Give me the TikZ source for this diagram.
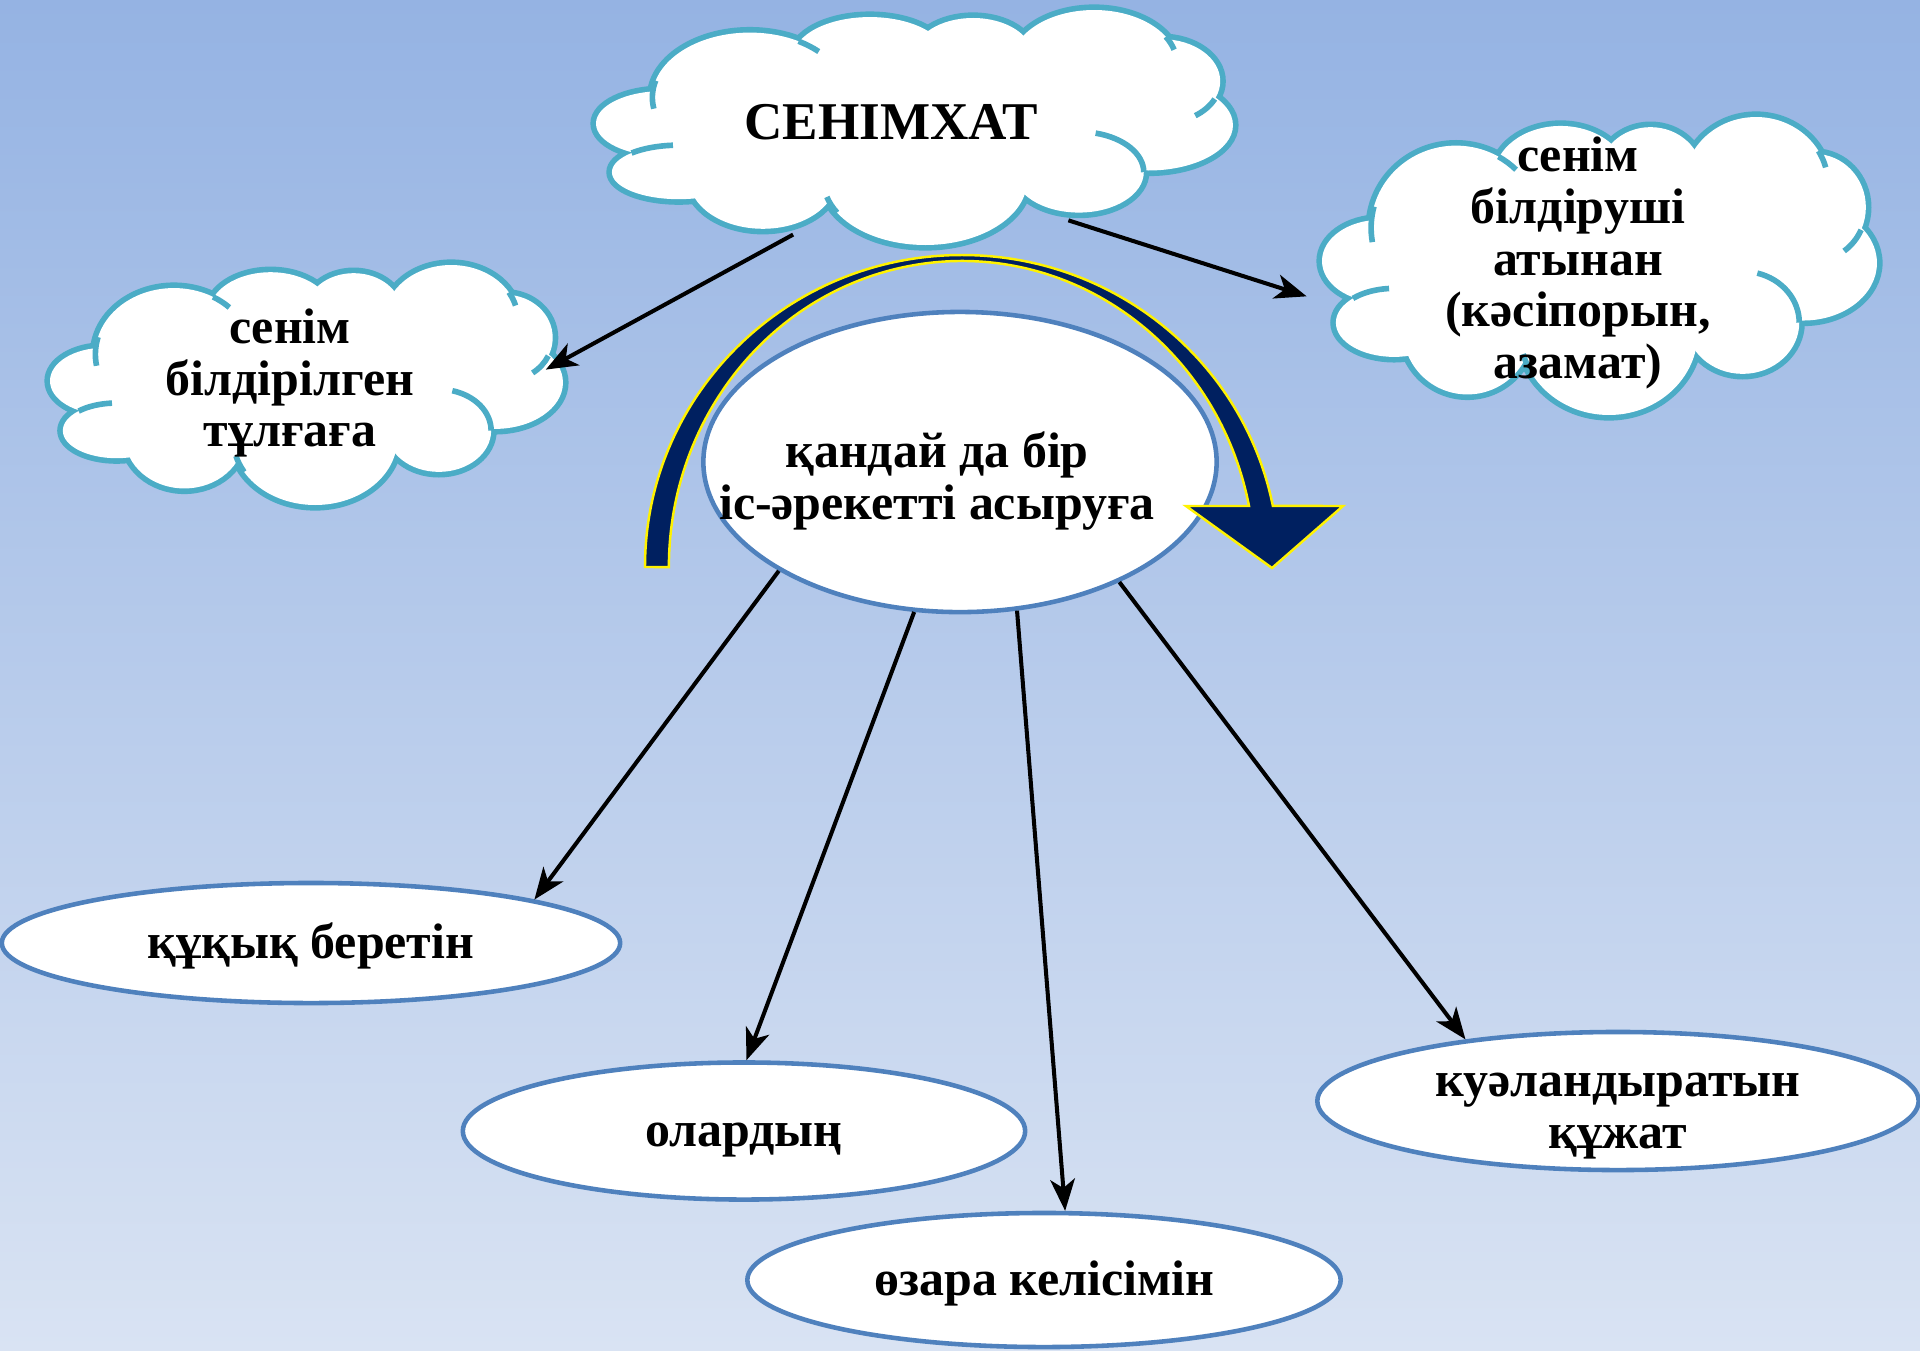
\documentclass[tikz,border=0pt]{standalone}
\usepackage{fontspec}
\setmainfont{Liberation Serif}
\usetikzlibrary{shapes.geometric,arrows.meta}

\definecolor{bgtop}{RGB}{149,179,227}
\definecolor{bgbot}{RGB}{217,227,243}
\definecolor{cloudline}{RGB}{75,172,198}
\definecolor{ovalline}{RGB}{79,129,189}
\definecolor{navy}{RGB}{0,32,96}

\newcommand{\kzfont}{\bfseries\fontsize{14.2}{14.7}\selectfont}

% lobes of a cloud in a unit box: centre x/centre y/x radius/y radius
\newcommand{\lobes}{0.105/0.483/0.105/0.138, 0.2415/0.372/0.153/0.276,
  0.43/0.2/0.12/0.17, 0.592/0.193/0.093/0.159, 0.782/0.228/0.13/0.228,
  0.888/0.303/0.092/0.179, 0.867/0.49/0.133/0.193, 0.758/0.69/0.102/0.172,
  0.517/0.724/0.16/0.276, 0.262/0.717/0.116/0.214, 0.13/0.69/0.105/0.115}
% short inner strokes: lobe/start angle/end angle
\newcommand{\puffarcs}{0.2415/0.372/0.153/0.276/170/195,
  0.2415/0.372/0.153/0.276/300/315, 0.782/0.228/0.13/0.228/330/345,
  0.888/0.303/0.092/0.179/25/55, 0.758/0.69/0.102/0.172/285/360,
  0.517/0.724/0.16/0.276/150/165, 0.13/0.69/0.105/0.115/225/265}

% cloud: left, top, width, height (pixels)
\newcommand{\puffcloud}[4]{%
  \begin{scope}[shift={(#1,#2)},xscale=#3,yscale=#4]
    \foreach \lx/\ly/\rx/\ry in \lobes
      \draw[cloudline,line width=3.2pt] (\lx,\ly) ellipse [x radius=\rx,y radius=\ry];
    \foreach \lx/\ly/\rx/\ry in \lobes
      \fill[white] (\lx,\ly) ellipse [x radius=\rx,y radius=\ry];
    \fill[white] (0.5,0.5) ellipse [x radius=0.35,y radius=0.3];
    \foreach \lx/\ly/\rx/\ry/\sa/\ea in \puffarcs
      \draw[cloudline,line width=1.6pt] ({\lx+\rx*cos(\sa)},{\ly+\ry*sin(\sa)})
        arc [start angle=\sa,end angle=\ea,x radius=\rx,y radius=\ry];
  \end{scope}}

\tikzset{
  cloudtext/.style={ellipse,inner sep=-8pt,font=\kzfont,align=center},
  oval/.style={ellipse,draw=ovalline,line width=1.3pt,fill=white,inner sep=-2pt,
    font=\kzfont,align=center},
  onerow/.style={text height=9pt,text depth=0pt},
  link/.style={-{Stealth[length=9pt,width=7pt,inset=2.5pt]},line width=1.15pt},
}

\begin{document}
\begin{tikzpicture}[x=0.01cm,y=-0.01cm]
  \useasboundingbox (0,0) rectangle (1920,1350);
  \shade[top color=bgtop,bottom color=bgbot] (0,0) rectangle (1920,1350);

  % clouds
  \puffcloud{596}{10}{637}{235}
  \puffcloud{50}{265}{513}{240}
  \puffcloud{1322}{117}{555}{298}

  \node[cloudtext,minimum width=6.37cm,minimum height=2.35cm,font=\bfseries\fontsize{15.1}{15.1}\selectfont]
    (doc) at (891,122) {СЕНІМХАТ};
  \node[cloudtext,minimum width=5.13cm,minimum height=2.4cm] (proxy) at (290,383)
    {сенім\\білдірілген\\тұлғаға};
  \node[cloudtext,minimum width=5.55cm,minimum height=2.98cm] (owner) at (1578,263)
    {сенім\\білдіруші\\атынан\\(кәсіпорын,\\азамат)};

  % ovals
  \node[oval,minimum width=5.13cm,minimum height=3cm] (act) at (960,462) {};
  \node[font=\kzfont,align=center] (acttxt) at (937,481) {қандай да бір\\іс-әрекетті асыруға};
  \node[oval,onerow,minimum width=6.18cm,minimum height=1.2cm] (kuk) at (311,943) {құқық беретін};
  \node[oval,onerow,minimum width=5.62cm,minimum height=1.37cm] (olar) at (744,1131) {олардың};
  \node[oval,onerow,minimum width=5.93cm,minimum height=1.34cm] (ozara) at (1044,1280) {өзара келісімін};
  \node[oval,inner sep=-8pt,minimum width=6.01cm,minimum height=1.38cm] (kual) at (1618,1101)
    {\rule{0pt}{15.2pt}куәландыратын\\құжат};

  % arrows
  \draw[link] (doc.229) -- (proxy.3);
  \draw[link] (doc.331) -- (owner.187);
  \draw[link] (act.211) -- (kuk.11);
  \draw[link] (act.253) -- (olar.88);
  \draw[link] (act.291) -- (ozara.73);
  \draw[link] (act.323) -- (kual.158);

  % curved arrow over the middle oval
  \filldraw[fill=navy,draw=yellow,line width=0.7pt] (645,567)
    arc [start angle=180,end angle=348.7,x radius=317,y radius=312]
    -- (1343,506) -- (1272,568) -- (1186,506) -- (1249,506)
    arc [start angle=348.5,end angle=180,x radius=293,y radius=306] -- cycle;
\end{tikzpicture}
\end{document}
